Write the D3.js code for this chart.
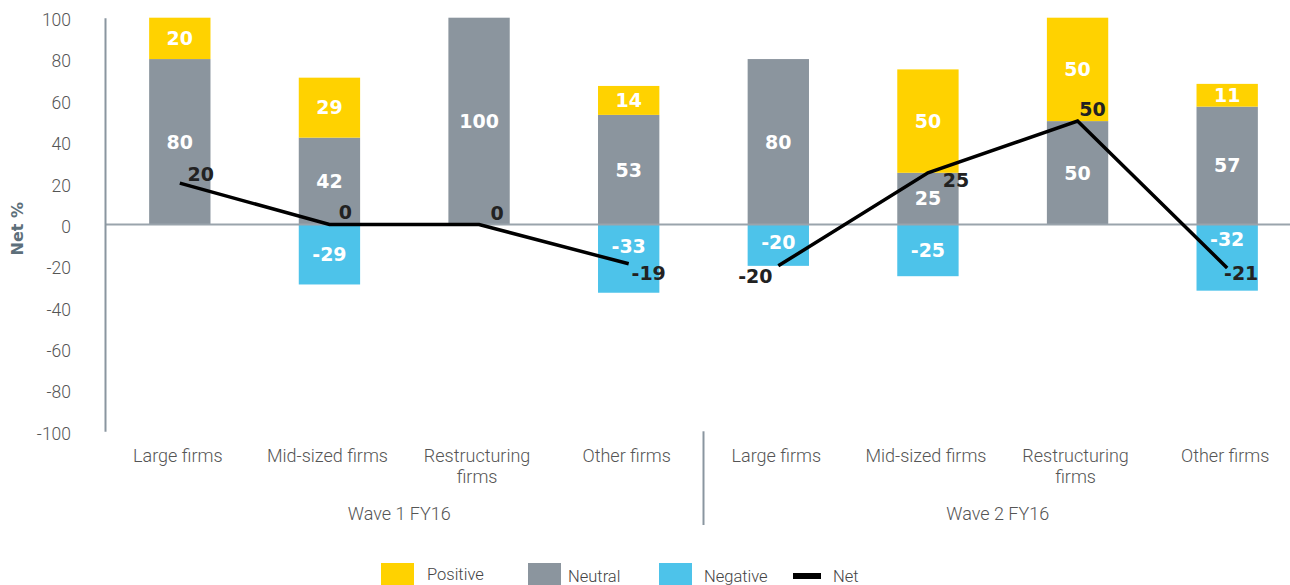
<!DOCTYPE html>
<html>
<head>
<meta charset="utf-8">
<script src="https://cdn.jsdelivr.net/npm/d3@7/dist/d3.min.js"></script>
<style>
  html, body { margin: 0; padding: 0; background: #fff; }
  svg { display: block; }
  .tick-label, .cat-label, .wave-label, .legend-label { font-family: Roboto, "Liberation Sans", sans-serif; font-weight: 300; }
  .num { font-family: "DejaVu Sans", sans-serif; font-weight: bold; }
</style>
</head>
<body>
<svg id="chart" width="1290" height="585"></svg>
<script>
// Survey responses by firm type, two waves
const waves = ["Wave 1 FY16", "Wave 2 FY16"];
const firmTypes = ["Large firms", "Mid-sized firms", "Restructuring firms", "Other firms"];
const positive = [20, 29, 0, 14, 0, 50, 50, 11];
const neutral  = [80, 42, 100, 53, 80, 25, 50, 57];
const negative = [0, -29, 0, -33, -20, -25, 0, -32];
const net      = [20, 0, 0, -19, -20, 25, 50, -21];
const yTicks = [-100, -80, -60, -40, -20, 0, 20, 40, 60, 80, 100];
const seriesNames = ["Positive", "Neutral", "Negative", "Net"];

const colors = { Positive: "#FFD200", Neutral: "#8B959E", Negative: "#4DC3EA", Net: "#000000" };

// label placement tweaks (pixel offsets)
const netLabelOffset = [[21, -9], [16, -12], [18, -11], [20, 9], [-23, 10], [28, 7], [15, -12], [14, 5]];
const negLabelShift = { 3: -12, 4: -3, 7: -18 };

const rows = [];
waves.forEach((w, wi) => firmTypes.forEach((f, fi) => {
  const i = wi * firmTypes.length + fi;
  rows.push({ key: i, wave: w, firm: f, Positive: positive[i], Neutral: neutral[i], Negative: negative[i], Net: net[i] });
}));

const svg = d3.select("#chart");
const axisX = 105;

const x = d3.scaleBand()
  .domain(rows.map(d => d.key))
  .range([axisX, 1302])
  .paddingInner(0.59)
  .paddingOuter(0.295);

const y = d3.scaleLinear().domain([-100, 100]).range([431.3, 17.7]);

// stacked bars: neutral on the base, positive on top, negative below zero
const stack = d3.stack().keys(["Neutral", "Positive", "Negative"]).offset(d3.stackOffsetDiverging);
const layers = stack(rows);

const gBars = svg.append("g");
layers.forEach(layer => {
  gBars.selectAll(null)
    .data(layer.filter(s => s[1] !== s[0]))
    .join("rect")
    .attr("x", s => x(s.data.key))
    .attr("width", x.bandwidth())
    .attr("y", s => y(Math.max(s[0], s[1])))
    .attr("height", s => Math.abs(y(s[0]) - y(s[1])))
    .attr("fill", colors[layer.key]);
});

// zero line
svg.append("line")
  .attr("x1", axisX).attr("x2", 1290)
  .attr("y1", y(0)).attr("y2", y(0))
  .attr("stroke", "#9AA4AC").attr("stroke-width", 2);

// y axis
const yAxis = d3.axisLeft(y).tickValues(yTicks).tickFormat(d => String(d)).tickSize(0).tickPadding(34);
const gy = svg.append("g").attr("transform", `translate(${axisX},0)`).call(yAxis);
gy.select(".domain").attr("stroke", "#8A96A0").attr("stroke-width", 2);
gy.selectAll("text")
  .attr("class", "tick-label")
  .attr("font-size", 17.5)
  .attr("fill", "#555")
  .attr("dy", "0.45em");

svg.append("text")
  .attr("class", "num")
  .attr("transform", `translate(23,${y(-2)}) rotate(-90)`)
  .attr("text-anchor", "middle")
  .attr("font-size", 16)
  .attr("fill", "#5D6F7A")
  .text("Net %");

// segment value labels
layers.forEach(layer => {
  svg.append("g").selectAll("text")
    .data(layer.filter(s => s[1] !== s[0]))
    .join("text")
    .attr("class", "num")
    .attr("x", s => x(s.data.key) + x.bandwidth() / 2)
    .attr("y", s => (y(s[0]) + y(s[1])) / 2 + (layer.key === "Negative" ? (negLabelShift[s.data.key] || 0) : 0))
    .attr("dy", "0.36em")
    .attr("text-anchor", "middle")
    .attr("font-size", 19)
    .attr("fill", "#fff")
    .text(s => s.data[layer.key]);
});

// net line, one run per wave
const line = d3.line().x(d => x(d.key) + x.bandwidth() / 2).y(d => y(d.Net));
waves.forEach(w => {
  svg.append("path")
    .datum(rows.filter(d => d.wave === w))
    .attr("d", line)
    .attr("fill", "none")
    .attr("stroke", colors.Net)
    .attr("stroke-width", 3.5)
    .attr("stroke-linejoin", "miter");
});

svg.append("g").selectAll("text")
  .data(rows)
  .join("text")
  .attr("class", "num")
  .attr("x", d => x(d.key) + x.bandwidth() / 2 + netLabelOffset[d.key][0])
  .attr("y", d => y(d.Net) + netLabelOffset[d.key][1])
  .attr("dy", "0.36em")
  .attr("text-anchor", "middle")
  .attr("font-size", 19)
  .attr("fill", "#222")
  .text(d => d.Net);

// category labels
const catG = svg.append("g");
rows.forEach(d => {
  const words = d.firm === "Restructuring firms" ? ["Restructuring", "firms"] : [d.firm];
  const t = catG.append("text")
    .attr("class", "cat-label")
    .attr("x", x(d.key) + x.bandwidth() / 2)
    .attr("y", 462)
    .attr("text-anchor", "middle")
    .attr("font-size", 18)
    .attr("fill", "#555");
  words.forEach((wd, k) => t.append("tspan")
    .attr("x", x(d.key) + x.bandwidth() / 2 - 2)
    .attr("dy", k === 0 ? 0 : 21)
    .text(wd));
});

// wave labels and separator
waves.forEach((w, wi) => {
  const keys = rows.filter(d => d.wave === w).map(d => d.key);
  const x0 = x(keys[0]) - x.step() * x.paddingInner() / 2;
  const x1 = x(keys[keys.length - 1]) + x.bandwidth() + x.step() * x.paddingInner() / 2;
  svg.append("text")
    .attr("class", "wave-label")
    .attr("x", (x0 + x1) / 2 - 5)
    .attr("y", 520)
    .attr("text-anchor", "middle")
    .attr("font-size", 18)
    .attr("fill", "#555")
    .text(w);
  if (wi > 0) {
    svg.append("line")
      .attr("x1", x0).attr("x2", x0)
      .attr("y1", y(-100)).attr("y2", 525)
      .attr("stroke", "#8A96A0").attr("stroke-width", 2);
  }
});

// legend
const legendItems = [
  { name: seriesNames[0], x: 381, tx: 427, ty: 580 },
  { name: seriesNames[1], x: 528, tx: 568, ty: 582 },
  { name: seriesNames[2], x: 659, tx: 704, ty: 582 },
  { name: seriesNames[3], x: 793, tx: 833, ty: 582 }
];
const lg = svg.append("g");
legendItems.forEach(it => {
  if (it.name === "Net") {
    lg.append("rect").attr("x", it.x).attr("y", 573).attr("width", 28).attr("height", 6).attr("fill", colors.Net);
  } else {
    lg.append("rect").attr("x", it.x).attr("y", 563).attr("width", 33).attr("height", 24).attr("fill", colors[it.name]);
  }
  lg.append("text")
    .attr("class", "legend-label")
    .attr("x", it.tx).attr("y", it.ty)
    .attr("font-size", 16.5)
    .attr("fill", "#444")
    .text(it.name);
});
</script>
</body>
</html>
